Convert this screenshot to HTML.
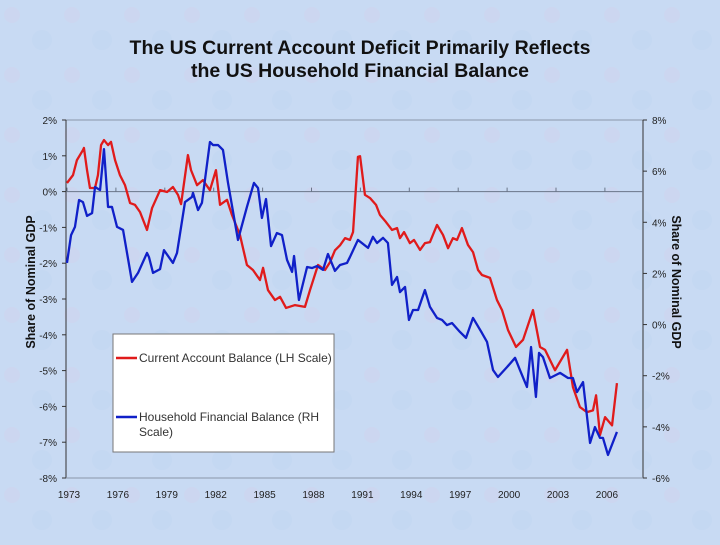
<!DOCTYPE html>
<html><head><meta charset="utf-8"><style>
html,body{margin:0;padding:0;}
body{width:720px;height:540px;overflow:hidden;background:#c9dbf2;font-family:"Liberation Sans",sans-serif;}
svg text{font-family:"Liberation Sans",sans-serif;}
</style></head><body>
<svg id="chart" width="720" height="540" xmlns="http://www.w3.org/2000/svg">
<defs>
<pattern id="tex" width="60" height="60" patternUnits="userSpaceOnUse">
<rect width="60" height="60" fill="#c8daf3"/>
<circle cx="12" cy="15" r="8" fill="#d2cdea" opacity="0.35"/>
<circle cx="42" cy="40" r="10" fill="#bfd5f1" opacity="0.4"/>
</pattern>
</defs>
<rect width="720" height="540" fill="url(#tex)"/>
<text x="360" y="54" text-anchor="middle" font-size="19.5" font-weight="bold" fill="#111">The US Current Account Deficit Primarily Reflects</text>
<text x="360" y="77" text-anchor="middle" font-size="19.5" font-weight="bold" fill="#111">the US Household Financial Balance</text>
<g id="axes"></g>
<g id="series"></g>
<g>
<rect x="113" y="334" width="221" height="118" fill="#fff" stroke="#777" stroke-width="1"/>
<line x1="116" y1="358" x2="137" y2="358" stroke="#e01b1b" stroke-width="2.5"/>
<text x="139" y="362" font-size="12" fill="#333">Current Account Balance (LH Scale)</text>
<line x1="116" y1="417" x2="137" y2="417" stroke="#1020c8" stroke-width="2.5"/>
<text x="139" y="421" font-size="12" fill="#333">Household Financial Balance (RH</text>
<text x="139" y="436" font-size="12" fill="#333">Scale)</text>
</g>
<text transform="translate(35,282) rotate(-90)" text-anchor="middle" font-size="12.5" font-weight="bold" fill="#111">Share of Nominal GDP</text>
<text transform="translate(672,282) rotate(90)" text-anchor="middle" font-size="12.5" font-weight="bold" fill="#111">Share of Nominal GDP</text>
</svg>
<script>
const yearTicks=[1973,1976,1979,1982,1985,1988,1991,1994,1997,2000,2003,2006];
const leftTicks=[2,1,0,-1,-2,-3,-4,-5,-6,-7,-8];
const rightTicks=[8,6,4,2,0,-2,-4,-6];
const caYears=[1973.06,1973.43,1973.67,1974.04,1974.1,1974.29,1974.47,1974.78,1974.96,1975.15,1975.33,1975.58,1975.76,1976.01,1976.31,1976.62,1976.93,1977.23,1977.54,1977.97,1978.28,1978.77,1979.2,1979.56,1979.87,1980.06,1980.48,1980.67,1981.04,1981.4,1981.83,1982.2,1982.45,1982.88,1983.18,1983.67,1984.1,1984.47,1984.9,1985.09,1985.39,1985.82,1986.13,1986.5,1987.05,1987.66,1987.97,1988.46,1988.89,1989.2,1989.5,1989.81,1990.12,1990.42,1990.61,1990.91,1991.04,1991.34,1991.65,1992.02,1992.26,1992.63,1993,1993.31,1993.49,1993.74,1994.1,1994.35,1994.72,1995.02,1995.33,1995.76,1996.13,1996.44,1996.74,1996.99,1997.29,1997.66,1997.97,1998.28,1998.52,1999.01,1999.44,1999.75,2000.12,2000.61,2001.04,2001.65,2002.08,2002.39,2003,2003.74,2004.1,2004.53,2004.96,2005.33,2005.52,2005.76,2006.07,2006.5,2006.8];
const caValues=[0.24,0.46,0.88,1.16,1.22,0.6,0.1,0.1,0.46,1.3,1.44,1.3,1.39,0.88,0.46,0.18,-0.32,-0.37,-0.57,-1.07,-0.46,0.04,-0.01,0.13,-0.09,-0.35,1.02,0.6,0.18,0.32,0.04,0.6,-0.37,-0.23,-0.65,-1.21,-2.05,-2.19,-2.47,-2.13,-2.75,-3.03,-2.94,-3.25,-3.17,-3.22,-2.75,-2.05,-2.19,-1.97,-1.64,-1.5,-1.3,-1.35,-1.13,0.97,0.99,-0.09,-0.18,-0.37,-0.65,-0.85,-1.07,-1.02,-1.3,-1.13,-1.44,-1.35,-1.63,-1.44,-1.41,-0.93,-1.21,-1.58,-1.3,-1.35,-1.02,-1.49,-1.69,-2.19,-2.33,-2.41,-3.03,-3.31,-3.87,-4.34,-4.14,-3.31,-4.34,-4.42,-4.99,-4.42,-5.46,-6.02,-6.16,-6.11,-5.69,-6.8,-6.3,-6.53,-5.35];
const hhYears=[1973.06,1973.31,1973.55,1973.8,1974.04,1974.29,1974.6,1974.78,1975.09,1975.33,1975.58,1975.82,1976.13,1976.5,1977.05,1977.42,1977.97,1978.09,1978.34,1978.77,1979.01,1979.56,1979.81,1980.3,1980.73,1980.79,1981.1,1981.34,1981.83,1982.02,1982.33,1982.63,1982.94,1983.55,1984.1,1984.53,1984.78,1985.02,1985.27,1985.58,1985.94,1986.25,1986.56,1986.87,1986.99,1987.29,1987.79,1988.09,1988.4,1988.77,1989.07,1989.5,1989.81,1990.24,1990.42,1990.91,1991.53,1991.83,1992.08,1992.45,1992.75,1993,1993.31,1993.49,1993.8,1994.04,1994.29,1994.6,1995.02,1995.33,1995.76,1996.07,1996.37,1996.68,1997.17,1997.54,1997.97,1998.52,1998.83,1999.2,1999.5,2000.06,2000.55,2000.85,2001.28,2001.53,2001.83,2002.02,2002.26,2002.69,2003.31,2003.8,2004.1,2004.35,2004.72,2005.15,2005.45,2005.76,2005.94,2006.25,2006.8];
const hhValues=[2.41,3.5,3.82,4.87,4.79,4.25,4.36,5.38,5.26,6.86,4.6,4.6,3.82,3.7,1.67,2.02,2.8,2.64,2.02,2.17,2.91,2.41,2.8,4.79,4.99,5.15,4.48,4.76,7.14,7.02,7.02,6.83,5.54,3.31,4.6,5.54,5.34,4.17,4.91,3.07,3.58,3.5,2.53,2.06,2.68,0.96,2.25,2.21,2.29,2.14,2.76,2.1,2.33,2.41,2.64,3.31,3,3.43,3.19,3.39,3.19,1.55,1.86,1.27,1.47,0.18,0.57,0.57,1.35,0.69,0.26,0.18,-0.02,0.06,-0.29,-0.52,0.26,-0.33,-0.68,-1.78,-2.05,-1.66,-1.3,-1.78,-2.44,-0.88,-2.83,-1.11,-1.27,-2.09,-1.89,-2.09,-2.09,-2.64,-2.25,-4.63,-4.01,-4.43,-4.43,-5.1,-4.2];

const NS="http://www.w3.org/2000/svg";
const X0=66,X1=643,Y0=120,Y1=478;
const xS=y=>X0+(y-1973)*16.3;
const yL=v=>Y0+(2-v)*(Y1-Y0)/10;
const yR=v=>Y0+(8-v)*(Y1-Y0)/14;
function mk(tag,attrs,parent){const e=document.createElementNS(NS,tag);for(const k in attrs)e.setAttribute(k,attrs[k]);parent.appendChild(e);return e;}
const ax=document.getElementById('axes');
const topLine=mk('line',{x1:X0,y1:Y0,x2:X1,y2:Y0,stroke:'#8a96a8','stroke-width':1},ax);


const la=mk('line',{x1:X0,y1:Y0,x2:X0,y2:Y1,stroke:'#333','stroke-width':1},ax);


const ra=mk('line',{x1:X1,y1:Y0,x2:X1,y2:Y1,stroke:'#333','stroke-width':1},ax);


const bb=mk('line',{x1:X0,y1:Y1,x2:X1,y2:Y1,stroke:'#8a96a8','stroke-width':1},ax);


const xa=mk('line',{x1:X0,y1:yL(0),x2:X1,y2:yL(0),stroke:'#6a7588','stroke-width':1},ax);


leftTicks.forEach(v=>{
 const y=yL(v);
 mk('line',{x1:X0-4,y1:y,x2:X0,y2:y,stroke:'#333'},ax);
 const t=mk('text',{x:X0-9,y:y+4,'text-anchor':'end','font-size':10,fill:'#222'},ax);
 t.textContent=v+'%';
 
 
});
rightTicks.forEach(v=>{
 const y=yR(v);
 mk('line',{x1:X1,y1:y,x2:X1+4,y2:y,stroke:'#333'},ax);
 const t=mk('text',{x:X1+9,y:y+4,'font-size':10,fill:'#222'},ax);
 t.textContent=v+'%';
 
 
});
yearTicks.forEach(yr=>{
 const x=xS(yr)+1;
 mk('line',{x1:x,y1:yL(0)-4,x2:x,y2:yL(0),stroke:'#6a7588'},ax);
 const t=mk('text',{x:x+2,y:498,'text-anchor':'middle','font-size':10,fill:'#222'},ax);
 t.textContent=yr;
 
 
});
const sg=document.getElementById('series');
const ca=mk('polyline',{points:caYears.map((y,i)=>xS(y)+','+yL(caValues[i])).join(' '),fill:'none',stroke:'#e01b1b','stroke-width':2.3,'stroke-linejoin':'round'},sg);


const hh=mk('polyline',{points:hhYears.map((y,i)=>xS(y)+','+yR(hhValues[i])).join(' '),fill:'none',stroke:'#1020c8','stroke-width':2.3,'stroke-linejoin':'round'},sg);


</script>
</body></html>
